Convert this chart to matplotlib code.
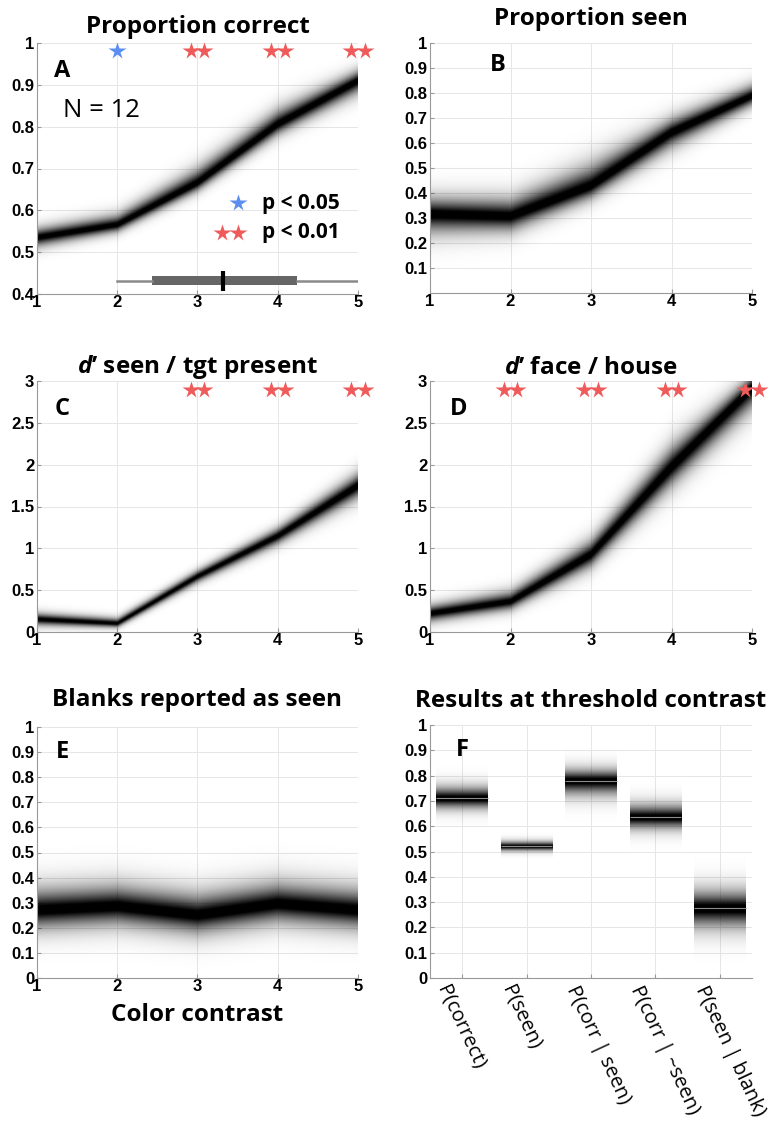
import numpy as np
import matplotlib.pyplot as plt
from matplotlib.transforms import ScaledTranslation

plt.rcParams['mathtext.fontset'] = 'custom'
plt.rcParams['mathtext.it'] = 'Open Sans:italic:bold'
plt.rcParams['mathtext.rm'] = 'Open Sans:bold'

contrast = [1, 2, 3, 4, 5]

# A: proportion correct (posterior centre and spread above/below)
correct_mid = [0.535, 0.565, 0.665, 0.805, 0.91]
correct_up = [0.045, 0.05, 0.07, 0.07, 0.05]
correct_dn = [0.045, 0.035, 0.04, 0.05, 0.06]

# B: proportion seen
seen_mid = [0.315, 0.305, 0.425, 0.64, 0.785]
seen_up = [0.13, 0.14, 0.17, 0.11, 0.09]
seen_dn = [0.15, 0.12, 0.10, 0.12, 0.08]

# C: d' seen / target present
dseen_mid = [0.15, 0.10, 0.66, 1.14, 1.74]
dseen_up = [0.15, 0.13, 0.15, 0.2, 0.3]
dseen_dn = [0.15, 0.10, 0.15, 0.2, 0.3]

# D: d' face / house
dface_mid = [0.22, 0.36, 0.92, 1.96, 2.91]
dface_up = [0.2, 0.25, 0.35, 0.5, 0.3]
dface_dn = [0.2, 0.2, 0.3, 0.45, 0.5]

# E: blanks reported as seen
blank_mid = [0.27, 0.285, 0.25, 0.295, 0.27]
blank_up = [0.17, 0.17, 0.17, 0.17, 0.17]
blank_dn = [0.15, 0.15, 0.15, 0.15, 0.15]

# F: results at threshold contrast
f_labels = ['P(correct)', 'P(seen)', 'P(corr | seen)', 'P(corr | ~seen)', 'P(seen | blank)']
f_mid = [0.71, 0.52, 0.78, 0.635, 0.275]
f_up = [0.09, 0.04, 0.09, 0.10, 0.14]
f_dn = [0.08, 0.035, 0.11, 0.09, 0.15]

# significance stars
a_p05 = [2]
a_p01 = [3, 4, 5]
c_p01 = [3, 4, 5]
d_p01 = [2, 3, 4, 5]

# threshold contrast across subjects
thr_stats = dict(whislo=2.0, q1=2.43, med=3.32, q3=4.24, whishi=5.0, fliers=[])

BLUE = '#5b8ef0'
RED = '#ef5b5b'
TICKFONT = dict(family='Liberation Sans', weight='bold', size=12)
TFONT = 'Open Sans'
TSIZE = 17.5


def density(ax, x, mid, up, dn, ylim, x0=None, x1=None):
    x0 = x[0] if x0 is None else x0
    x1 = x[-1] if x1 is None else x1
    xs = np.linspace(x0, x1, 400)
    ys = np.linspace(ylim[0], ylim[1], 900)
    if len(x) > 1:
        m = np.interp(xs, x, mid)
        su = np.interp(xs, x, up)
        sd = np.interp(xs, x, dn)
    else:
        m = np.full_like(xs, mid[0])
        su = np.full_like(xs, up[0])
        sd = np.full_like(xs, dn[0])
    d = ys[:, None] - m[None, :]
    s = np.where(d > 0, su[None, :], sd[None, :])
    a = np.clip(1.15 * np.exp(-(np.abs(d) / (0.42 * s)) ** 1.4), 0, 1)
    img = np.zeros(a.shape + (4,))
    img[..., 3] = a
    ax.imshow(img, extent=[x0, x1, ylim[0], ylim[1]], origin='lower',
              aspect='auto', interpolation='bilinear', zorder=2)


def style(ax, ylim, yticks, ylabels, title, pad, letter, lpos):
    ax.set_ylim(*ylim)
    ax.set_yticks(yticks)
    ax.set_yticklabels(ylabels, fontdict=TICKFONT)
    ax.grid(True, color='0.9', linewidth=0.7, zorder=0)
    ax.set_axisbelow(True)
    for sp in ['top', 'right']:
        ax.spines[sp].set_visible(False)
    for sp in ['left', 'bottom']:
        ax.spines[sp].set_color('0.6')
    ax.tick_params(direction='in', length=3, color='0.6')
    ax.tick_params(axis='y', pad=2)
    ax.tick_params(axis='x', pad=1)
    ax.set_title(title, family=TFONT, weight='bold', size=TSIZE, pad=pad)
    ax.text(lpos[0], lpos[1], letter, transform=ax.transAxes, family=TFONT,
            weight='bold', size=17, ha='center', va='center')


def line_axes(ax, x, mid, up, dn, ylim):
    ax.set_xlim(1, 5)
    ax.set_xticks(contrast)
    ax.set_xticklabels([str(c) for c in contrast], fontdict=TICKFONT)
    density(ax, x, mid, up, dn, ylim)


def stars(ax, xs, y, color, double):
    for xv in xs:
        offs = [-0.085, 0.085] if double else [0]
        for o in offs:
            ax.plot(xv + o, y, marker='*', ms=13, color=color, mec='none',
                    clip_on=False, zorder=5)


fig = plt.figure(figsize=(7.73, 11.33), dpi=100)
W, H = 773, 1133


def place(l, r, t, b):
    return fig.add_axes([l / W, 1 - b / H, (r - l) / W, (b - t) / H])


axA = place(37, 358, 43, 294)
axB = place(430, 752, 43, 293)
axC = place(37, 358, 381, 632)
axD = place(430, 752, 381, 632)
axE = place(37, 358, 727, 978)
axF = place(430, 752, 725, 978)

fmt = lambda v: '%g' % round(v, 2)

# A
t = np.arange(0.4, 1.001, 0.1)
line_axes(axA, contrast, correct_mid, correct_up, correct_dn, (0.4, 1))
style(axA, (0.4, 1), t, [fmt(v) for v in t], 'Proportion correct', 7, 'A', (0.078, 0.89))
axA.text(0.2, 0.733, 'N = 12', transform=axA.transAxes, family=TFONT, size=18.5,
         ha='center', va='center')
stars(axA, a_p05, 0.98, BLUE, False)
stars(axA, a_p01, 0.98, RED, True)
axA.plot(3.51, 0.617, marker='*', ms=13, color=BLUE, mec='none', zorder=5)
axA.plot([3.30, 3.51], [0.546, 0.546], ls='none', marker='*', ms=13, color=RED,
         mec='none', zorder=5)
axA.text(3.80, 0.617, 'p < 0.05', family=TFONT, weight='bold', size=15, va='center')
axA.text(3.80, 0.546, 'p < 0.01', family=TFONT, weight='bold', size=15, va='center')
axA.bxp([thr_stats], positions=[0.432], widths=0.02, orientation='horizontal',
        patch_artist=True, showcaps=False, showfliers=False,
        boxprops=dict(facecolor='#666666', edgecolor='none'),
        whiskerprops=dict(color='#8a8a8a', linewidth=1.8),
        medianprops=dict(visible=False), manage_ticks=False, zorder=4)
axA.plot(thr_stats['med'], 0.432, marker='|', ms=14, mew=3, color='black', zorder=6)

# B
t = np.arange(0.1, 1.001, 0.1)
line_axes(axB, contrast, seen_mid, seen_up, seen_dn, (0, 1))
style(axB, (0, 1), t, [fmt(v) for v in t], 'Proportion seen', 13, 'B', (0.21, 0.91))

# C
t = np.arange(0, 3.001, 0.5)
line_axes(axC, contrast, dseen_mid, dseen_up, dseen_dn, (0, 3))
style(axC, (0, 3), t, [fmt(v) for v in t], '$\\mathit{d’}$ seen / tgt present', 5,
      'C', (0.078, 0.89))
stars(axC, c_p01, 2.89, RED, True)

# D
line_axes(axD, contrast, dface_mid, dface_up, dface_dn, (0, 3))
style(axD, (0, 3), t, [fmt(v) for v in t], '$\\mathit{d’}$ face / house', 5,
      'D', (0.09, 0.89))
stars(axD, d_p01, 2.89, RED, True)

# E
t = np.arange(0, 1.001, 0.1)
line_axes(axE, contrast, blank_mid, blank_up, blank_dn, (0, 1))
style(axE, (0, 1), t, [fmt(v) for v in t], 'Blanks reported as seen', 15, 'E', (0.078, 0.9))
axE.set_xlabel('Color contrast', family=TFONT, weight='bold', size=TSIZE, labelpad=6)

# F
pos = np.arange(1, len(f_labels) + 1)
axF.set_xlim(0.5, 5.5)
for p, m, u, d in zip(pos, f_mid, f_up, f_dn):
    density(axF, [p], [m], [u], [d], (0, 1), p - 0.4, p + 0.4)
    axF.hlines(m, p - 0.4, p + 0.4, color='0.55', linewidth=0.8, zorder=3)
style(axF, (0, 1), t, [fmt(v) for v in t], 'Results at threshold contrast', 13, 'F', (0.1, 0.9))
axF.set_xticks(pos)
axF.set_xticklabels(f_labels, family=TFONT, size=14.5, rotation=-65, ha='left',
                    va='top', rotation_mode='anchor')
shift = ScaledTranslation(-11 / 100, -3 / 100, fig.dpi_scale_trans)
for lab in axF.get_xticklabels():
    lab.set_transform(lab.get_transform() + shift)

fig.savefig('out.png', dpi=100)
